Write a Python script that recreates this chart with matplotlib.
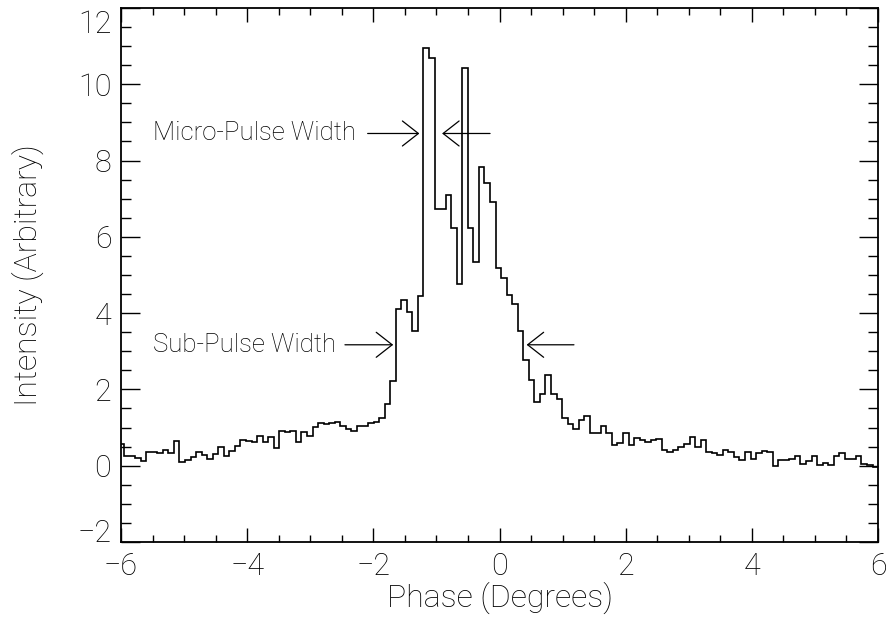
import numpy as np
import matplotlib
matplotlib.use('Agg')
import matplotlib.pyplot as plt
import matplotlib.transforms as mtransforms
from matplotlib.ticker import MultipleLocator

plt.rcParams['font.family'] = ['Roboto', 'DejaVu Sans']
plt.rcParams['font.weight'] = 'light'

# phase histogram, 4096 bins per turn
phase_start = -6.04
bin_width = 360.0/4096
intensity = [0.57, 0.25, 0.25, 0.20, 0.13, 0.35, 0.35, 0.33, 0.42, 0.33,
             0.66, 0.10, 0.16, 0.22, 0.35, 0.29, 0.18, 0.31, 0.48, 0.26,
             0.39, 0.51, 0.68, 0.66, 0.62, 0.79, 0.63, 0.75, 0.47, 0.90,
             0.88, 0.92, 0.62, 0.88, 0.79, 1.01, 1.12, 1.10, 1.12, 1.15,
             1.03, 0.95, 0.90, 1.03, 1.05, 1.12, 1.15, 1.24, 1.62, 2.21,
             4.12, 4.34, 4.02, 3.52, 4.44, 10.96, 10.68, 6.72, 6.72, 7.11,
             6.24, 4.76, 10.42, 6.24, 5.35, 7.82, 7.41, 6.91, 5.18, 4.91,
             4.47, 4.25, 3.52, 2.76, 2.24, 1.68, 1.87, 2.39, 1.87, 1.76,
             1.24, 1.10, 0.95, 1.21, 1.30, 0.86, 0.86, 1.03, 0.86, 0.53,
             0.60, 0.86, 0.55, 0.73, 0.67, 0.62, 0.68, 0.71, 0.41, 0.37,
             0.42, 0.48, 0.57, 0.75, 0.48, 0.67, 0.35, 0.33, 0.27, 0.40,
             0.35, 0.22, 0.16, 0.36, 0.17, 0.33, 0.38, 0.36, -0.02, 0.16,
             0.16, 0.17, 0.25, 0.05, 0.11, 0.25, 0.03, 0.07, 0.03, 0.25,
             0.33, 0.18, 0.17, 0.25, 0.05, 0.03, -0.03]
edges = phase_start + bin_width*np.arange(len(intensity)+1)

# width markers: (text, y, left arrow tail, left arrow tip, right arrow tip, right arrow tail)
micro = ('Micro-Pulse Width', 8.71, -2.09, -1.27, -0.91, -0.15)
sub = ('Sub-Pulse Width', 3.17, -2.45, -1.685, 0.43, 1.18)
text_x = -5.49

fig = plt.figure(figsize=(8.87, 6.35), dpi=100)
ax = fig.add_axes([0.1364, 0.1465, 0.8535, 0.8409])

ax.stairs(intensity, edges, baseline=None, color='black', lw=1.2)

for label, y, t1, h1, h2, t2 in [micro, sub]:
    ax.text(text_x, y, label, fontsize=18.5, va='center', ha='left')
    for tail, tip in [(t1, h1), (t2, h2)]:
        ax.annotate('', xy=(tip, y), xytext=(tail, y),
                    arrowprops=dict(arrowstyle='->,head_length=1.15,head_width=0.9',
                                    lw=0.9, color='black', shrinkA=0, shrinkB=0,
                                    mutation_scale=10))

ax.set_xlim(-6, 6)
ax.set_ylim(-2, 12)
ax.xaxis.set_major_locator(MultipleLocator(2))
ax.xaxis.set_minor_locator(MultipleLocator(0.5))
ax.yaxis.set_major_locator(MultipleLocator(2))
ax.yaxis.set_minor_locator(MultipleLocator(0.5))
ax.tick_params(which='both', direction='in', top=True, right=True, labelsize=22, width=1)
ax.tick_params(axis='x', which='major', length=10, pad=7)
ax.tick_params(axis='x', which='minor', length=5)
ax.tick_params(axis='y', which='major', length=14, pad=7)
ax.tick_params(axis='y', which='minor', length=7)
for s in ax.spines.values():
    s.set_linewidth(1.3)

# end labels on the y axis sit inside the frame, as in the original
ylocs = ax.yaxis.get_majorticklocs()
for loc, tick in zip(ylocs, ax.yaxis.get_major_ticks(len(ylocs))):
    if abs(loc - 12) < 1e-6:
        dy = -10
    elif abs(loc + 2) < 1e-6:
        dy = 8
    else:
        continue
    off = mtransforms.ScaledTranslation(0, dy/72., fig.dpi_scale_trans)
    tick.label1.set_transform(tick.label1.get_transform() + off)

ax.set_xlabel('Phase (Degrees)', fontsize=23, fontweight='light', va='top')
ax.xaxis.set_label_coords(0.5, -0.075)
ax.set_ylabel('Intensity (Arbitrary)', fontsize=23, fontweight='light', va='center')
ax.yaxis.set_label_coords(-0.123, 0.5)

plt.savefig('out.png', dpi=100)
